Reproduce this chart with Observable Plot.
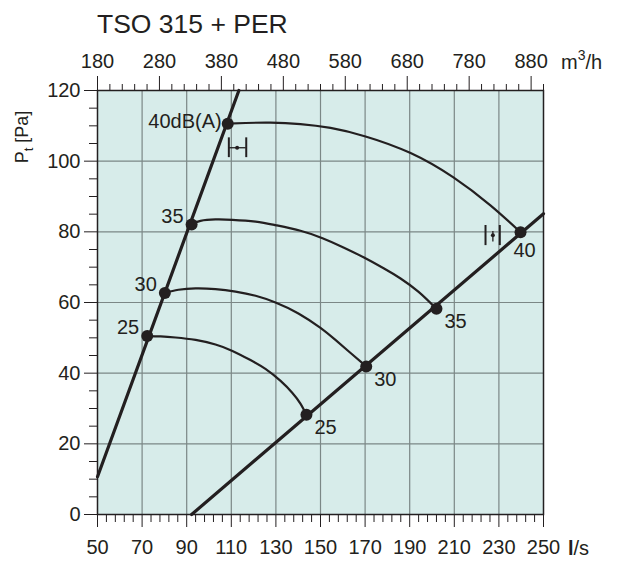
<!DOCTYPE html>
<html><head><meta charset="utf-8">
<script src="https://cdn.jsdelivr.net/npm/d3@7"></script>
<script src="https://cdn.jsdelivr.net/npm/@observablehq/plot@0.6"></script>
<style>
body{margin:0;background:#fff;font-family:"Liberation Sans",Arial,sans-serif;}
#wrap{position:relative;width:618px;height:563px;}
#title{position:absolute;left:97px;top:9px;font-size:26.5px;color:#231f20;white-space:nowrap;}
svg{display:block;}
</style></head><body>
<div id="wrap"><div id="title">TSO 315 + PER</div></div>
<script>
// ---- axis ticks ----
const xTicks = [50, 70, 90, 110, 130, 150, 170, 190, 210, 230, 250];
const yTicks = [0, 20, 40, 60, 80, 100, 120];
const topTicksM3h = [180, 280, 380, 480, 580, 680, 780, 880];
const gridX = [70, 90, 110, 130, 150, 170, 190, 210, 230];
const gridY = [20, 40, 60, 80, 100];

// ---- system lines ----
const leftLineX = [50, 113.4];
const leftLineY = [10.7, 120];
const rightLineX = [92.2, 250];
const rightLineY = [0, 85.1];

// ---- operating points (dB levels) ----
const dbLevels = [25, 30, 35, 40];
const leftPtsX = [72.3, 80.2, 92.2, 108.4];
const leftPtsY = [50.5, 62.7, 82.1, 110.6];
const rightPtsX = [143.7, 170.5, 202.0, 239.7];
const rightPtsY = [28.2, 41.9, 58.2, 79.9];

// ---- iso-noise curves ----
const curve25X = [72.3, 78.3, 85.0, 94.0, 102.9, 110.5, 118.6, 125.3, 132.1, 137.4, 141.0, 143.7];
const curve25Y = [50.5, 50.4, 50.1, 49.4, 48.1, 46.3, 43.7, 41.2, 37.8, 34.4, 31.4, 28.2];
const curve30X = [80.2, 86.3, 94.0, 102.9, 111.9, 120.9, 129.8, 140.1, 150.0, 156.7, 163.5, 170.5];
const curve30Y = [62.7, 63.6, 64.0, 63.8, 63.1, 61.9, 60.0, 56.9, 52.8, 49.4, 45.7, 41.9];
const curve35X = [92.2, 96.2, 102.9, 110.5, 120.9, 129.8, 141.0, 150.9, 160.3, 169.3, 178.3, 185.9, 194.0, 202.0];
const curve35Y = [82.1, 83.1, 83.5, 83.4, 82.9, 81.9, 80.3, 78.2, 75.6, 72.8, 69.7, 66.8, 63.0, 58.2];
const curve40X = [108.4, 116.4, 127.6, 141.0, 154.5, 170.2, 190.4, 209.6, 226.2, 239.7];
const curve40Y = [110.6, 110.8, 110.9, 110.5, 109.4, 107.0, 102.3, 95.4, 87.5, 79.9];

// ---- tolerance markers ----
const hMarkX = [108.9, 116.7];
const hMarkY = [101.0, 106.6];
const hMarkMid = 103.8;
const hMarkDot = 112.6;
const vMarkX = [224.0, 230.4];
const vMarkY = [76.1, 81.8];
const vMarkMidX = 227.3;
const vMarkMidY = [77.1, 80.1];
const vMarkDot = 79.0;

const ink = "#231f20";
const FS = 20;
const pts = (xs, ys) => xs.map((x, i) => ({x, y: ys[i]}));
const xMinor = d3.range(54, 250, 4).filter(v => (v - 50) % 20 !== 0);
const yMinor = d3.range(5, 120, 5).filter(v => v % 20 !== 0);
const topMinor = d3.range(200, 901, 20).filter(v => (v - 180) % 100 !== 0);

const leftPts = dbLevels.map((d, i) => ({x: leftPtsX[i], y: leftPtsY[i], d}));
const rightPts = dbLevels.map((d, i) => ({x: rightPtsX[i], y: rightPtsY[i], d}));

const curves = [[curve25X, curve25Y], [curve30X, curve30Y], [curve35X, curve35Y], [curve40X, curve40Y]];

const chart = Plot.plot({
  width: 618, height: 563,
  marginLeft: 97, marginRight: 75, marginTop: 90, marginBottom: 49,
  x: {domain: [50, 250]},
  y: {domain: [0, 120]},
  style: {fontFamily: '"Liberation Sans", Arial, sans-serif', fontSize: FS + "px", color: ink, background: "transparent"},
  marks: [
    Plot.frame({fill: "#d7ecea", stroke: null}),
    Plot.ruleX(gridX, {stroke: "#7b8786", strokeWidth: 1.2}),
    Plot.ruleY(gridY, {stroke: "#7b8786", strokeWidth: 1.2}),
    ...curves.map(([xs, ys]) => Plot.line(pts(xs, ys), {x: "x", y: "y", stroke: ink, strokeWidth: 2.2, curve: "natural"})),
    Plot.line(pts(leftLineX, leftLineY), {x: "x", y: "y", stroke: ink, strokeWidth: 3.2}),
    Plot.line(pts(rightLineX, rightLineY), {x: "x", y: "y", stroke: ink, strokeWidth: 3.2}),
    Plot.dot(leftPts, {x: "x", y: "y", r: 6, fill: ink}),
    Plot.dot(rightPts, {x: "x", y: "y", r: 6, fill: ink}),
    // left labels
    Plot.text(leftPts.filter(d => d.d !== 40), {x: "x", y: "y", text: d => String(d.d), textAnchor: "end", dx: -8, dy: -8, fontSize: FS, fill: ink}),
    Plot.text(leftPts.filter(d => d.d === 40), {x: "x", y: "y", text: d => d.d + "dB(A)", textAnchor: "end", dx: -6, dy: -2, fontSize: FS, fill: ink}),
    // right labels
    Plot.text(rightPts.filter(d => d.d !== 40), {x: "x", y: "y", text: d => String(d.d), textAnchor: "start", dx: 8, dy: 13, fontSize: FS, fill: ink}),
    Plot.text(rightPts.filter(d => d.d === 40), {x: "x", y: "y", text: d => String(d.d), textAnchor: "middle", dx: 4, dy: 18, fontSize: FS, fill: ink}),
    // horizontal tolerance marker
    Plot.ruleX(hMarkX, {y1: hMarkY[0], y2: hMarkY[1], stroke: ink, strokeWidth: 2}),
    Plot.ruleY([hMarkMid], {x1: hMarkX[0], x2: hMarkX[1], stroke: ink, strokeWidth: 1.3}),
    Plot.dot([{x: hMarkDot, y: hMarkMid}], {x: "x", y: "y", r: 2, fill: ink}),
    // vertical tolerance marker
    Plot.ruleX(vMarkX, {y1: vMarkY[0], y2: vMarkY[1], stroke: ink, strokeWidth: 2}),
    Plot.ruleX([vMarkMidX], {y1: vMarkMidY[0], y2: vMarkMidY[1], stroke: ink, strokeWidth: 1.3}),
    Plot.dot([{x: vMarkMidX, y: vMarkDot}], {x: "x", y: "y", r: 2, fill: ink}),
    Plot.frame({stroke: ink, strokeWidth: 1.5}),
    // axes
    Plot.axisX({anchor: "bottom", ticks: xTicks, tickSize: 13, tickPadding: 12, tickFormat: d => String(d), fontSize: FS, stroke: ink, label: null}),
    Plot.axisX({anchor: "bottom", ticks: xMinor, tickSize: 8, tickFormat: () => "", stroke: ink, label: null}),
    Plot.axisX({anchor: "top", ticks: topTicksM3h.map(v => v / 3.6), tickSize: 15, tickPadding: 8, tickFormat: d => String(Math.round(d * 3.6)), fontSize: FS, stroke: ink, label: null}),
    Plot.axisX({anchor: "top", ticks: topMinor.map(v => v / 3.6), tickSize: 7, tickFormat: () => "", stroke: ink, label: null}),
    Plot.axisY({anchor: "left", ticks: yTicks, tickSize: 13, tickPadding: 4, tickFormat: d => String(d), fontSize: FS, stroke: ink, label: null}),
    Plot.axisY({anchor: "left", ticks: yMinor, tickSize: 8, tickFormat: () => "", stroke: ink, label: null})
  ]
});

const svg = d3.select(chart);
// y-axis label P_t [Pa]
const yl = svg.append("text")
  .attr("transform", "translate(28,137) rotate(-90)")
  .attr("text-anchor", "middle")
  .attr("font-size", 18)
  .attr("fill", ink);
yl.append("tspan").text("P");
yl.append("tspan").attr("font-size", 13).attr("dy", 5).text("t");
yl.append("tspan").attr("dy", -5).text(" [Pa]");

// top unit m3/h
const tu = svg.append("text").attr("x", 561).attr("y", 69).attr("text-anchor", "start").attr("font-size", FS).attr("fill", ink);
tu.append("tspan").text("m");
tu.append("tspan").attr("font-size", 14).attr("dy", -9).text("3");
tu.append("tspan").attr("dy", 9).text("/h");

// bottom unit l/s
const bu = svg.append("text").attr("x", 568).attr("y", 555).attr("text-anchor", "start").attr("font-size", FS).attr("fill", ink);
bu.append("tspan").attr("font-weight", "bold").text("l");
bu.append("tspan").text("/s");

document.getElementById("wrap").appendChild(chart);
</script>
</body></html>
